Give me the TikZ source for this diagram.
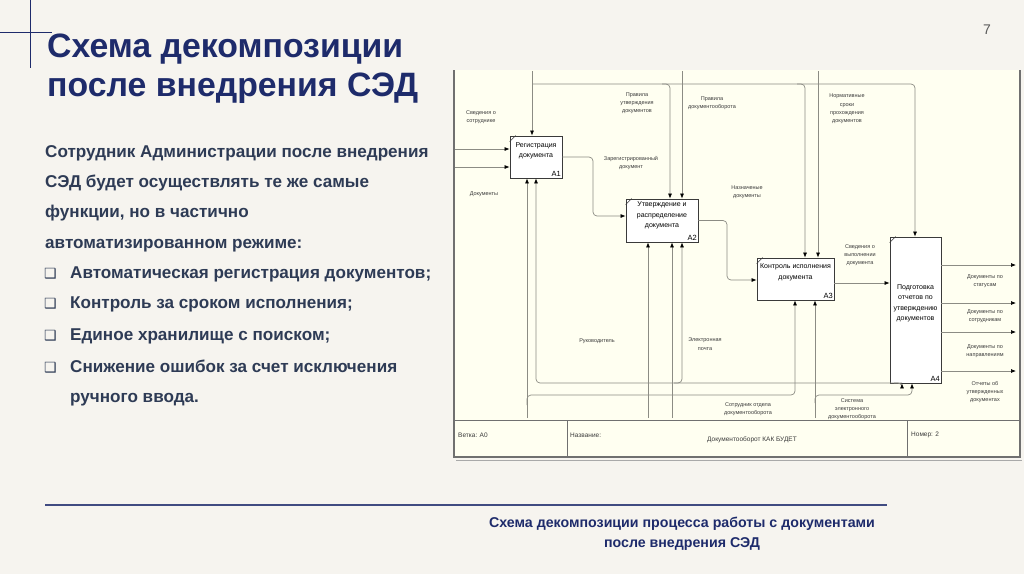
\documentclass[tikz,border=0pt]{standalone}
\usepackage{fontspec}
\setmainfont{Liberation Sans}
\newfontfamily\symfont{DejaVu Sans}
\usetikzlibrary{positioning,arrows.meta}
\definecolor{slidebg}{HTML}{F6F4EF}
\definecolor{navy}{HTML}{1E2B6B}
\definecolor{slate}{HTML}{2E3B55}
\definecolor{paper}{HTML}{FFFFF1}
\definecolor{wire}{HTML}{8C8C84}
\definecolor{framegray}{HTML}{707070}
\definecolor{ink}{HTML}{3A3A3A}
\tikzset{
  procbox/.style={draw=ink,fill=white,line width=.8pt,font=\fontsize{7}{10.5}\selectfont,align=center,inner sep=0pt},
  flow/.style={draw=wire,line width=.7pt,rounded corners=4pt,-{Latex[length=5pt,width=4pt,color=black]}},
  tag/.style={font=\fontsize{5.5}{8.3}\selectfont,text=ink,align=center,inner sep=0pt},
  framelabel/.style={font=\fontsize{6.5}{8}\selectfont,text=ink,anchor=west,inner sep=0pt},
  bodytext/.style={anchor=base west,inner sep=0pt,text=slate,font=\fontsize{17.1}{20}\selectfont\bfseries},
}
\begin{document}
\begin{tikzpicture}[x=1pt,y=-1pt]
\useasboundingbox (0,0) rectangle (1024,574);
\fill[slidebg] (0,0) rectangle (1024,574);
% Slide frame: corner cross, title, page number.
\draw[navy,line width=1pt] (30,0) -- (30,68) (0,32) -- (52,32);
\foreach \yy/\line [count=\i] in {57/Схема декомпозиции,96/после внедрения СЭД}
  \node[anchor=base west,inner sep=0pt,text=navy,font=\fontsize{33.8}{38}\selectfont\bfseries] (title\i) at (47,\yy) {\line};
\node[font=\fontsize{14}{16}\selectfont,text=black!65] (pagenum) at (987,30) {7};
% Left column: intro and the checkbox list.
\foreach \yy/\line [count=\i] in {157/Сотрудник Администрации после внедрения,187/СЭД будет осуществлять те же самые,217/{функции, но в частично},248/автоматизированном режиме:}
  \node[bodytext] (intro\i) at (45,\yy) {\line};
\foreach \yy/\line [count=\i] in {278/Автоматическая регистрация документов;,308/Контроль за сроком исполнения;,340/Единое хранилище с поиском;,372/Снижение ошибок за счет исключения}{
  \node[bodytext,font=\symfont\fontsize{14}{16}\selectfont] (tick\i) at (44,\yy) {❑};
  \node[bodytext] (item\i) at (70,\yy) {\line};
}
\node[bodytext] (item5) at (70,402) {ручного ввода.};
% IDEF0 sheet: paper, border and the bottom title block.
\fill[paper] (454,70) rectangle (1020,457);
\draw[framegray,line width=1.2pt] (454,70) -- (454,457) -- (1020,457) -- (1020,70);
\draw[framegray!60,line width=.8pt] (456,460) -- (1022,460);
\draw[framegray,line width=1pt] (454,420) -- (1020,420) (567,420) -- (567,457) (907,420) -- (907,457);
\node[framelabel] (branch) at (458,435) {Ветка: А0};
\node[framelabel] (namelbl) at (570,435) {Название:};
\node[framelabel] (sheetname) at (707,440) {Документооборот КАК БУДЕТ};
\node[framelabel] (sheetno) at (911,435) {Номер: 2};
% Activity boxes.
\node[procbox,minimum width=52pt,minimum height=42pt] (a1) at (536,157) {Регистрация\\документа\\[3pt]};
\node[procbox,minimum width=72pt,minimum height=43pt] (a2) at (662,220.5) {Утверждение и\\распределение\\документа\\[1pt]};
\node[procbox,minimum width=77pt,minimum height=42pt] (a3) at (795.5,279) {Контроль исполнения\\документа\\[4pt]};
\node[procbox,minimum width=51pt,minimum height=146pt] (a4) at (915.5,310) {Подготовка\\отчетов по\\утверждению\\документов\\[4pt]};
\foreach \n/\t in {a1/A1,a2/A2,a3/A3,a4/A4}{
  \node[anchor=south east,inner sep=1.5pt,font=\fontsize{7.5}{9}\selectfont] (\n-id) at (\n.south east) {\t};
  \draw[ink,line width=.6pt] ([yshift=-6pt]\n.north west) -- ([xshift=6pt]\n.north west);
}
% Inputs.
\coordinate (in1) at (455,149);
\coordinate (in2) at (455,167);
\draw[flow] (in1) -- (in1 -| a1.west);
\draw[flow] (in2) -- (in2 -| a1.west);
\node[tag] (lin1) at (481,117) {Сведения о\\сотруднике};
\node[tag] (lin2) at (484,194) {Документы};
% Controls from the top edge.
\coordinate (c1) at (532,71);
\coordinate (cj) at (532,84);
\coordinate (c2) at (670,84);
\coordinate (c3) at (805,84);
\coordinate (cr) at (915,84);
\coordinate (d1) at (682,71);
\coordinate (n1) at (818,71);
\draw[flow] (c1) -- (c1 |- a1.north);
\draw[flow] (cj) -- (cr) -- (cr |- a4.north);
\draw[flow] ([xshift=-8pt]c2) -- (c2) -- (c2 |- a2.north);
\draw[flow] ([xshift=-8pt]c3) -- (c3) -- (c3 |- a3.north);
\draw[flow] (d1) -- (d1 |- a2.north);
\draw[flow] (n1) -- (n1 |- a3.north);
\node[tag] (lc1) at (637,103) {Правила\\утверждения\\документов};
\node[tag] (lc2) at (712,103) {Правила\\документооборота};
\node[tag] (lc3) at (847,109) {Нормативные\\сроки\\прохождения\\документов};
% Outputs between activities.
\coordinate (o1) at (593,216);
\coordinate (o2) at (727,280);
\coordinate (o3) at (834,283);
\draw[flow] (a1.east) -- (a1.east -| o1) -- (o1) -- (o1 -| a2.west);
\draw[flow] (a2.east) -- (a2.east -| o2) -- (o2) -- (o2 -| a3.west);
\draw[flow] (a3.east |- o3) -- (o3 -| a4.west);
\node[tag] (lo1) at (631,163) {Зарегистрированный\\документ};
\node[tag] (lo2) at (747,192) {Назначеные\\документы};
\node[tag] (lo3) at (860,255) {Сведения о\\выполнении\\документа};
% Report outputs of A4.
\foreach \yy/\txt/\ly [count=\i] in {265/{Документы по\\статусам}/281,303/{Документы по\\сотрудникам}/316,332/{Документы по\\направлениям}/351,371/{Отчеты об\\утвержденных\\документах}/392}{
  \coordinate (out\i) at (1016,\yy);
  \draw[flow] (out\i -| a4.east) -- (out\i);
  \node[tag] (lout\i) at (985,\ly) {\txt};
}
% Mechanisms from the bottom.
\coordinate (m1) at (527,418);
\coordinate (mk1) at (795,395);
\coordinate (m2) at (648,418);
\coordinate (m3) at (672,418);
\coordinate (m4) at (815,418);
\coordinate (r1) at (536,383);
\coordinate (r2) at (902,383);
\coordinate (r3) at (682,383);
\coordinate (s1) at (815,395);
\coordinate (s2) at (912,395);
\draw[flow] (m1) -- (m1 |- a1.south);
\draw[flow] ([yshift=-10pt]m1 |- mk1) -- (m1 |- mk1) -- (mk1) -- (mk1 |- a3.south);
\draw[flow] (m2) -- (m2 |- a2.south);
\draw[flow] (m3) -- (m3 |- a2.south);
\draw[flow] (m4) -- (m4 |- a3.south);
\draw[flow] (r2) -- (r1) -- (r1 |- a1.south);
\draw[flow] ([xshift=-8pt]r2) -- (r2) -- (r2 |- a4.south);
\draw[flow] ([xshift=-8pt]r3) -- (r3) -- (r3 |- a2.south);
\draw[flow] ([yshift=-8pt]s1) -- (s1) -- (s2) -- (s2 |- a4.south);
\node[tag] (lm1) at (597,341) {Руководитель};
\node[tag] (lm2) at (705,344) {Электронная\\почта};
\node[tag] (lm3) at (748,409) {Сотрудник отдела\\документооборота};
\node[tag] (lm4) at (852,409) {Система\\электронного\\документооборота};
% Bottom rule and caption.
\draw[navy!85,line width=1.3pt] (45,505) -- (887,505);
\node[anchor=base,inner sep=0pt,text=navy,font=\fontsize{14.2}{16}\selectfont\bfseries] (caption1) at (682,527) {Схема декомпозиции процесса работы с документами};
\node[anchor=base,inner sep=0pt,text=navy,font=\fontsize{14.2}{16}\selectfont\bfseries] (caption2) at (682,547) {после внедрения СЭД};
\end{tikzpicture}
\end{document}
